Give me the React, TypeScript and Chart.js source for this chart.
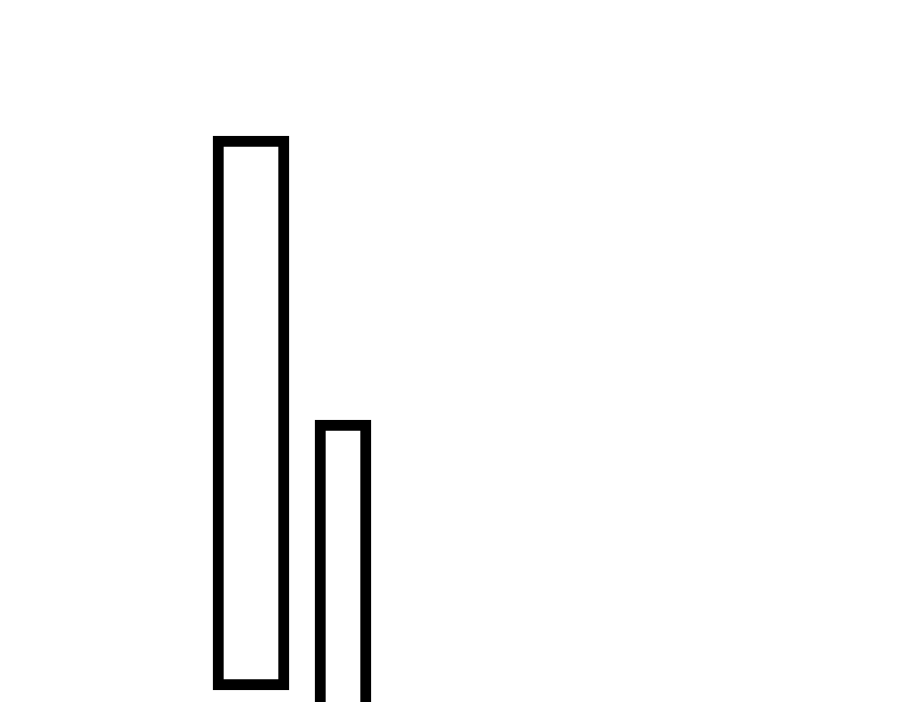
import React, { useEffect, useRef } from "react";
import { Chart, registerables } from "chart.js";

Chart.register(...registerables);

const positions = [2.51, 3.43];
const lows = [0.12, -1];
const highs = [5.66, 2.82];
const thickness = [76, 56];

export default function App() {
  const ref = useRef<HTMLCanvasElement | null>(null);
  useEffect(() => {
    document.body.style.margin = "0";
    const ctx = ref.current!;
    const datasets = positions.map((x, i) => ({
      label: "S" + (i + 1),
      data: [{ x, y: [lows[i], highs[i]] }],
      backgroundColor: "#ffffff",
      borderColor: "#000000",
      borderWidth: 11,
      borderSkipped: false,
      barThickness: thickness[i],
      grouped: false,
    }));
    const chart = new Chart(ctx, {
      type: "bar",
      data: { datasets: datasets as any },
      options: {
        animation: false,
        responsive: true,
        maintainAspectRatio: false,
        layout: { padding: 0 },
        plugins: { legend: { display: false }, tooltip: { enabled: false }, title: { display: false } },
        scales: {
          x: { type: "linear", min: 0, max: 9, offset: false, display: false },
          y: { type: "linear", min: 0, max: 7.02, display: false },
        },
      },
    });
    return () => chart.destroy();
  }, []);
  return (
    <div style={{ position: "fixed", left: 0, top: 0, width: 900, height: 702, background: "#fff" }}>
      <canvas ref={ref} />
    </div>
  );
}
